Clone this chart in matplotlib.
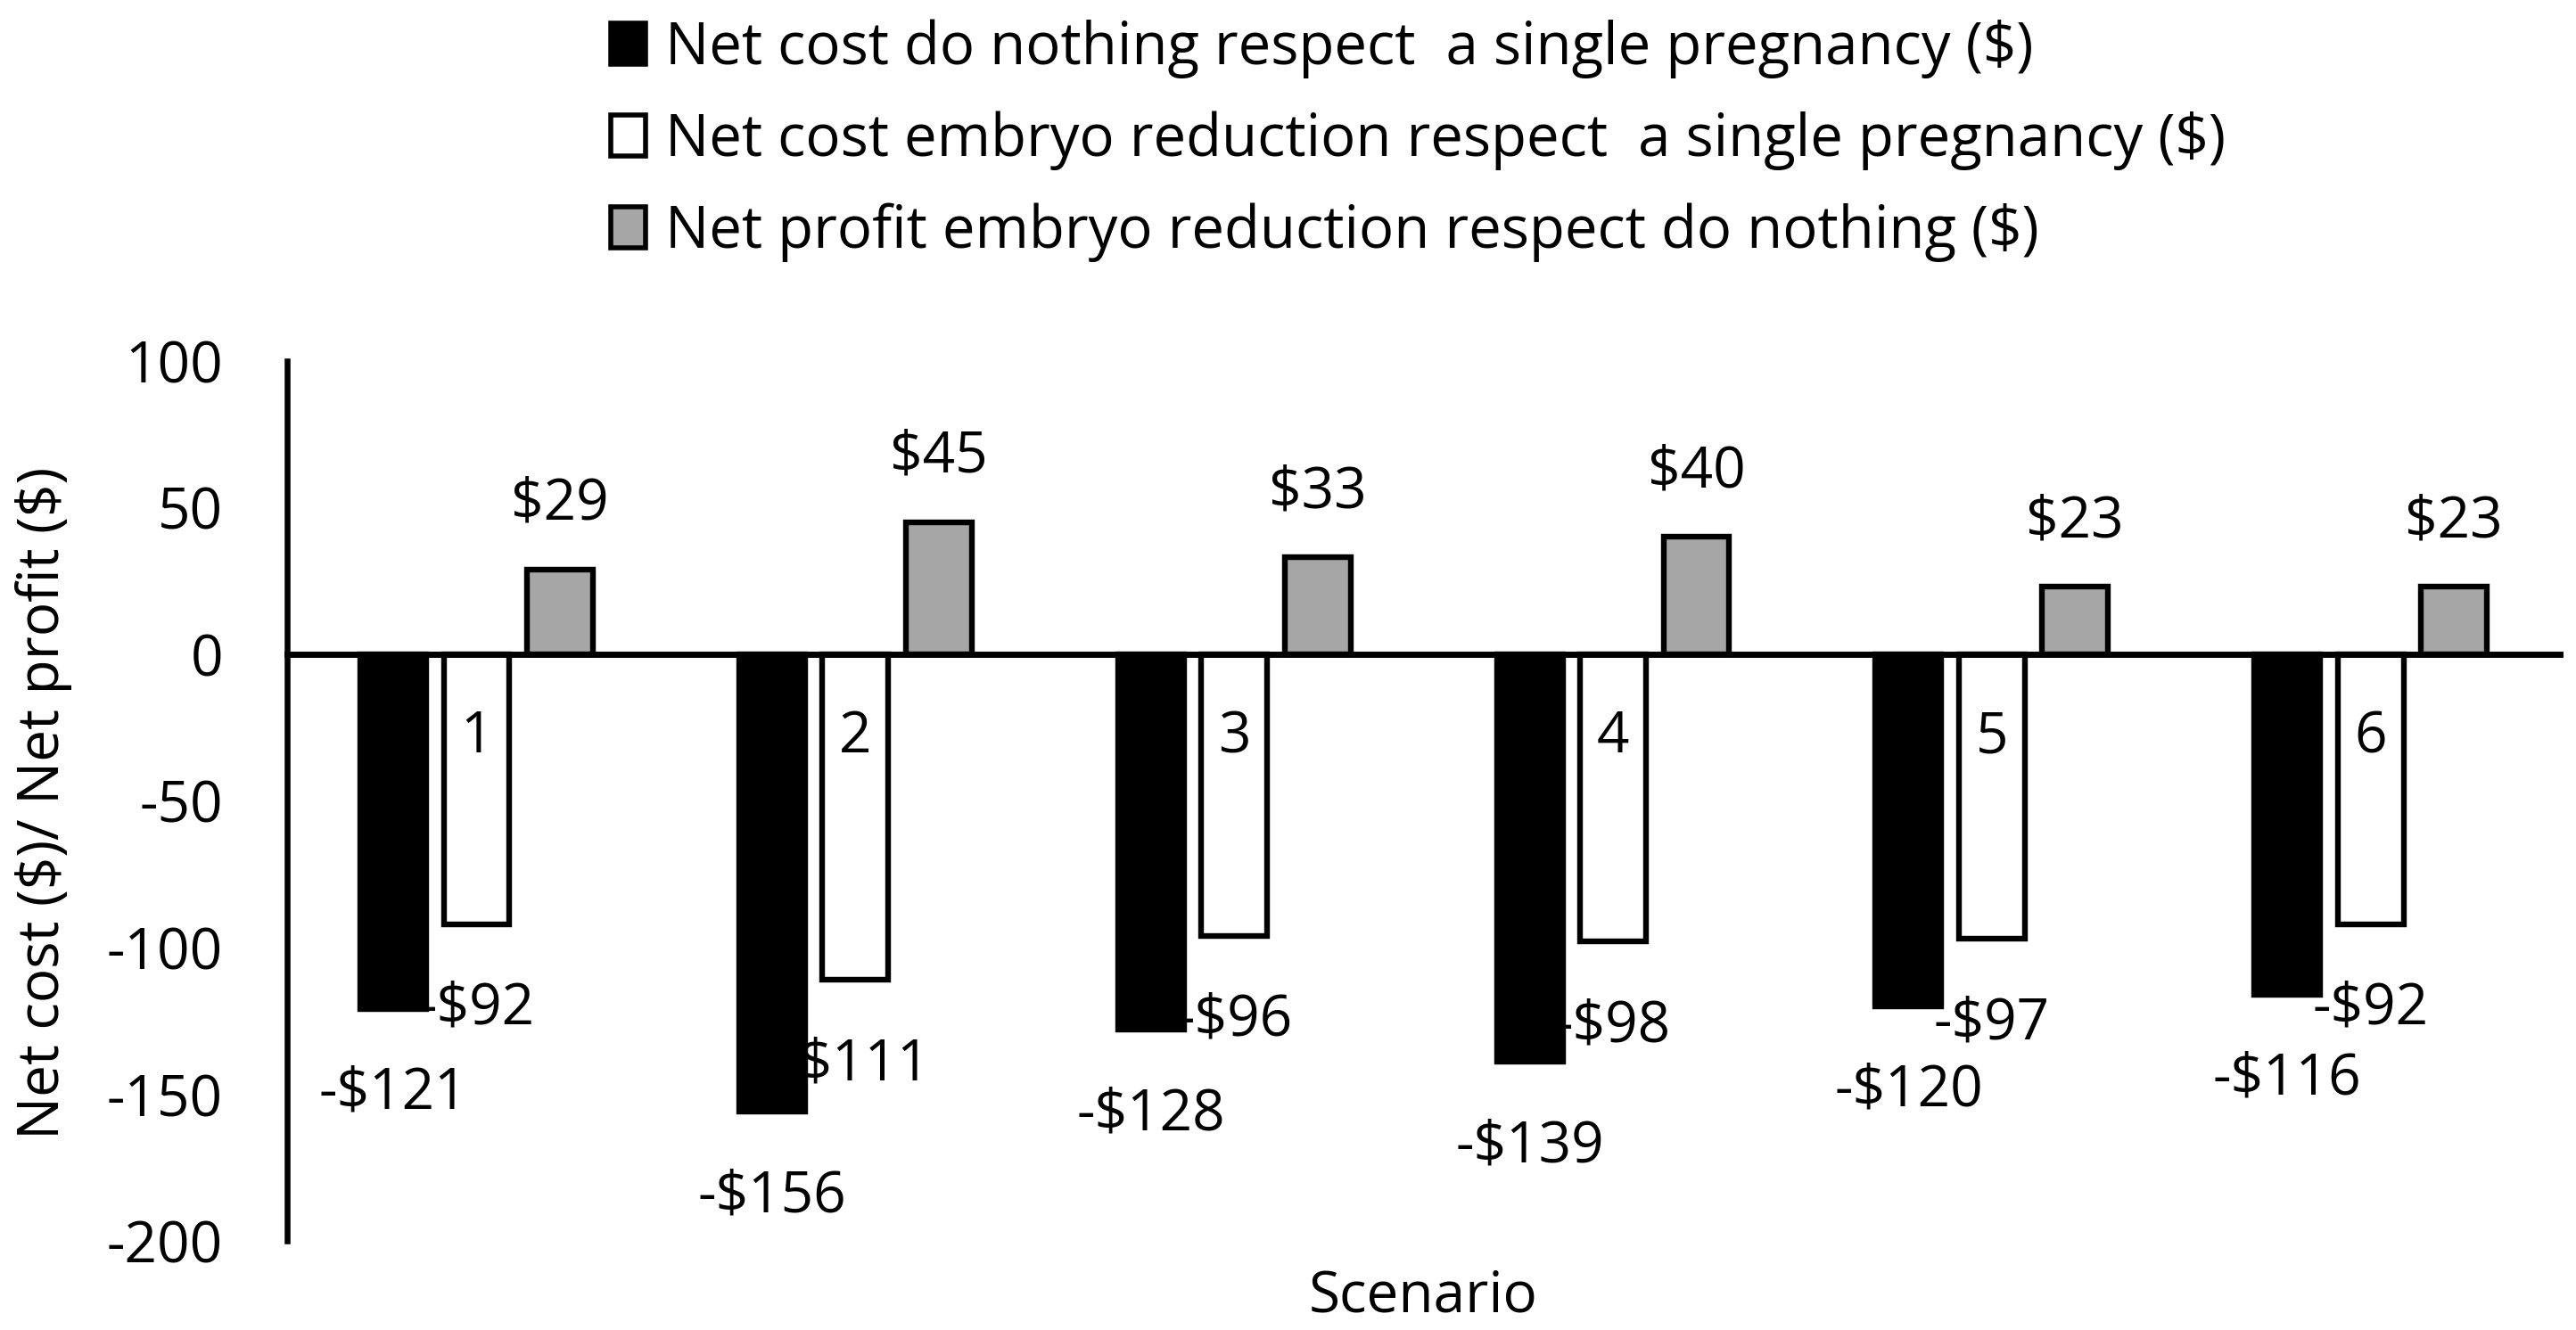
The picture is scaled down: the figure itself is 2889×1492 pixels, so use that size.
import matplotlib
matplotlib.use('Agg')
import matplotlib.pyplot as plt
from matplotlib.patches import Patch
import numpy as np

# ---- data ----
scenarios = ['1', '2', '3', '4', '5', '6']
net_cost_do_nothing = [-121, -156, -128, -139, -120, -116]
net_cost_reduction = [-92, -111, -96, -98, -97, -92]
net_profit_reduction = [29, 45, 33, 40, 23, 23]
series_names = [
    'Net cost do nothing respect  a single pregnancy ($)',
    'Net cost embryo reduction respect  a single pregnancy ($)',
    'Net profit embryo reduction respect do nothing ($)',
]
y_ticks = [100, 50, 0, -50, -100, -150, -200]
y_label = r'Net cost (\$)/ Net profit (\$)'
x_label = 'Scenario'

plt.rcParams['font.family'] = ['Open Sans', 'DejaVu Sans']
FS = 46

fig = plt.figure(figsize=(28.89, 14.92), dpi=100)
ax = fig.add_axes([0.1115, 0.0670, 0.8823, 0.6616])

x = np.arange(len(scenarios))
w = 0.174
off = 0.22
colors = ['black', 'white', '#A6A6A6']
series = [net_cost_do_nothing, net_cost_reduction, net_profit_reduction]
offsets = [-off, 0, off]

for vals, c, o in zip(series, colors, offsets):
    ax.bar(x + o, vals, width=w, color=c, edgecolor='black', linewidth=4.6, zorder=1)
    for xi, v in zip(x + o, vals):
        txt = f'${v}' if v >= 0 else f'-${abs(v)}'
        yy = v + 17 if v >= 0 else v - 34
        ax.text(xi, yy, txt, ha='center', va='baseline', fontsize=FS, zorder=5)

ax.set_xlim(-0.5, len(scenarios) - 0.5)
ax.set_ylim(-200, 100)
ax.set_yticks(y_ticks)
ax.set_yticklabels([str(t) for t in y_ticks])
ax.set_xticks(x)
ax.set_xticklabels(scenarios)
ax.tick_params(axis='y', length=0, pad=52, labelsize=FS)
ax.tick_params(axis='x', length=0, pad=44, labelsize=FS)

for s in ['top', 'right']:
    ax.spines[s].set_visible(False)
ax.spines['bottom'].set_position(('data', 0))
ax.spines['bottom'].set_linewidth(5.0)
ax.spines['left'].set_linewidth(4.7)

fig.text(0.01696, 0.396, y_label, rotation=90,
         ha='center', va='center', fontsize=FS)
fig.text(0.5524, 0.0248, x_label, ha='center', va='center', fontsize=FS)

handles = [Patch(facecolor=c, edgecolor='black', linewidth=4.0) for c in colors]
fig.legend(handles, series_names, loc='upper left', bbox_to_anchor=(0.2371, 0.9856),
           frameon=False, fontsize=47, handlelength=0.6, handleheight=0.7,
           handletextpad=0.33, labelspacing=0.56, borderpad=0, borderaxespad=0)

fig.savefig('out.png', dpi=100)
